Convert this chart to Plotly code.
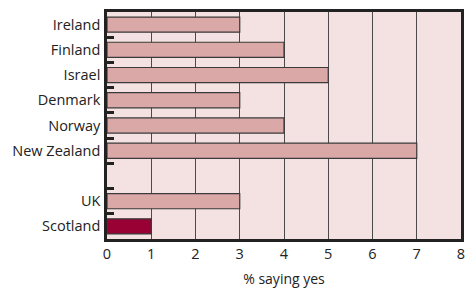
import plotly.graph_objects as go

categories = ["Ireland", "Finland", "Israel", "Denmark", "Norway", "New Zealand", " ", "UK", "Scotland"]
values = [3, 4, 5, 3, 4, 7, None, 3, 1]
bar_colors = ["#dba8a8"] * 8 + ["#990033"]
x_ticks = [0, 1, 2, 3, 4, 5, 6, 7, 8]

fig = go.Figure()
fig.add_trace(go.Bar(
    y=categories, x=values, orientation="h",
    marker=dict(color=bar_colors, line=dict(color="#3a3a3a", width=1.2)),
    width=0.6, showlegend=False,
))

font_family = "Open Sans, Lato, sans-serif"
fig.update_layout(
    width=470, height=289,
    margin=dict(l=107, r=9, t=12, b=50),
    paper_bgcolor="white",
    plot_bgcolor="#f4e1e1",
    font=dict(family=font_family, size=14.5, color="#222"),
    xaxis=dict(
        range=[0, 8], tickvals=x_ticks, showgrid=True, gridcolor="#4a4a4a", gridwidth=1,
        showline=True, linecolor="#222", linewidth=2.5, mirror=True,
        ticks="", zeroline=False, automargin=False,
        title=dict(text="% saying yes", font=dict(size=14), standoff=13),
    ),
    yaxis=dict(
        type="category", categoryorder="array", categoryarray=categories,
        autorange="reversed", showgrid=False, automargin=False,
        showline=True, linecolor="#222", linewidth=2.5, mirror=True,
        ticks="inside", tickson="boundaries", ticklen=7, tickwidth=2.5, tickcolor="#222",
        ticklabelstandoff=1,
    ),
    bargap=0.4,
)
fig.write_html(
    "out.html",
    config={"displayModeBar": False},
    post_script="document.body.style.margin='0';document.body.style.padding='0';",
)
